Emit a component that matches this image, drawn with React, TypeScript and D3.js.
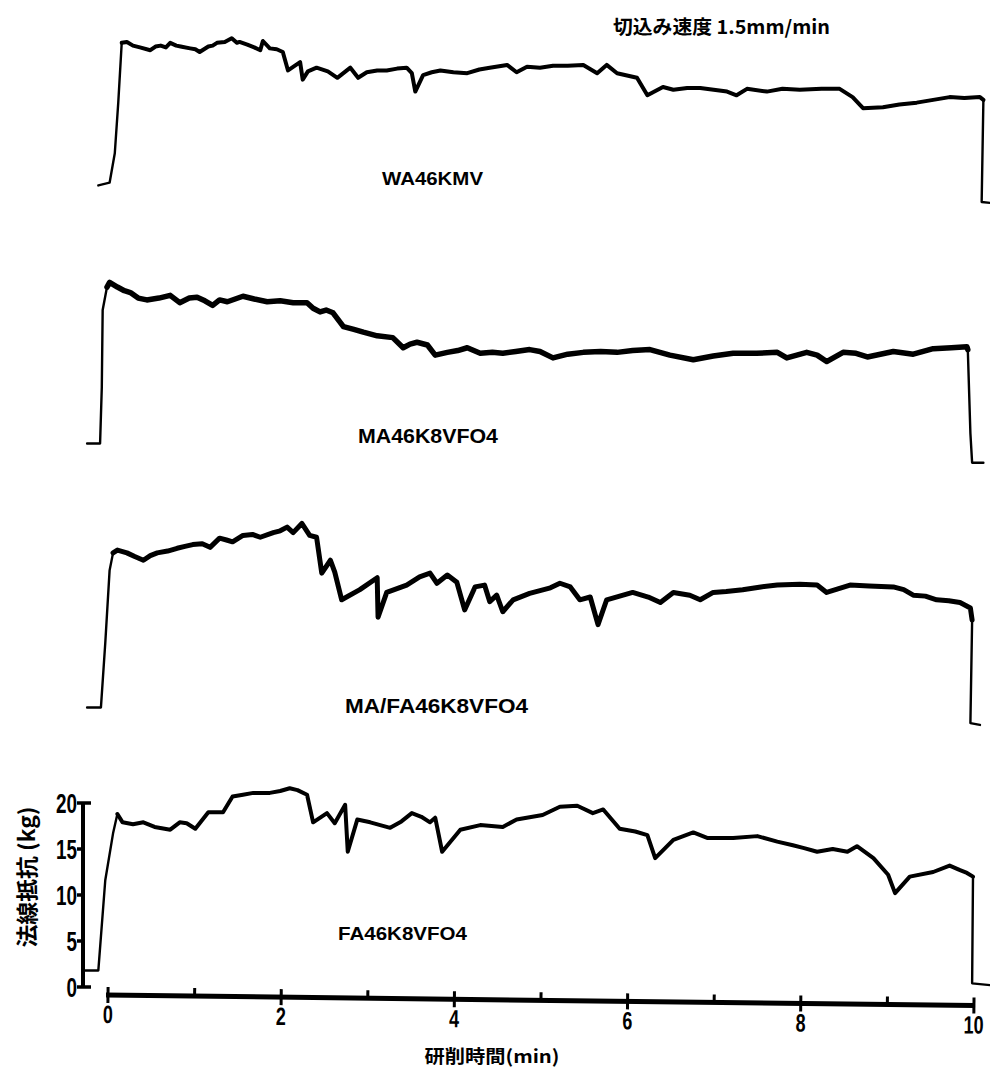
import React from 'react';
import * as d3 from 'd3';

type Pt = [number, number];

// ---- data (time in min, normal force in kg) ----
const title = '切込み速度 1.5mm/min';
const yTitle = '法線抵抗 (kg)';
const xTitle = '研削時間(min)';
const seriesNames = ['WA46KMV', 'MA46K8VFO4', 'MA/FA46K8VFO4', 'FA46K8VFO4'];
const xTickValues = [0, 1, 2, 3, 4, 5, 6, 7, 8, 9, 10];
const xTickLabels = ['0', '2', '4', '6', '8', '10'];
const yTickValues = [0, 5, 10, 15, 20];
const yTickLabels = ['0', '5', '10', '15', '20'];

const wa46kmv: Pt[] = [
  [-0.10, 1.8], [0.03, 2.1], [0.09, 5.3], [0.13, 10.8], [0.17, 17.3], [0.23, 17.4], [0.30, 17.0], [0.38, 16.8], [0.50, 16.5],
  [0.56, 16.9], [0.62, 17.0], [0.68, 16.8], [0.73, 17.3], [0.80, 17.0], [0.85, 16.9], [0.96, 16.7], [1.02, 16.6], [1.07, 16.3],
  [1.17, 16.9], [1.22, 17.0], [1.27, 17.3], [1.36, 17.4], [1.44, 17.8], [1.50, 17.3], [1.53, 17.4], [1.62, 17.1], [1.70, 16.8],
  [1.77, 16.5], [1.80, 17.5], [1.88, 16.7], [1.96, 16.6], [2.03, 16.3], [2.09, 14.3], [2.23, 15.2], [2.26, 13.3], [2.32, 14.2],
  [2.42, 14.6], [2.55, 14.2], [2.66, 13.5], [2.81, 14.6], [2.90, 13.5], [3.00, 14.1], [3.12, 14.3], [3.23, 14.3], [3.35, 14.5],
  [3.46, 14.6], [3.52, 14.0], [3.56, 12.0], [3.65, 13.8], [3.75, 14.1], [3.85, 14.3], [4.00, 14.1], [4.16, 14.0], [4.30, 14.4],
  [4.42, 14.6], [4.62, 14.9], [4.73, 14.1], [4.85, 14.7], [5.00, 14.6], [5.15, 14.8], [5.32, 14.8], [5.50, 14.9], [5.66, 14.0],
  [5.77, 14.9], [5.89, 14.0], [6.12, 13.5], [6.24, 11.6], [6.42, 12.5], [6.54, 12.2], [6.70, 12.4], [6.85, 12.4], [7.16, 12.0],
  [7.27, 11.6], [7.39, 12.3], [7.62, 12.0], [7.80, 12.3], [8.00, 12.2], [8.25, 12.3], [8.46, 12.3], [8.61, 11.4], [8.73, 10.2],
  [8.96, 10.3], [9.15, 10.6], [9.35, 10.8], [9.54, 11.1], [9.73, 11.4], [9.90, 11.3], [10.08, 11.4], [10.12, 11.1], [10.10, 0.0],
  [10.20, -0.1],
];

const ma46k8vfo4: Pt[] = [
  [-0.23, 1.8], [-0.08, 1.8], [-0.06, 7.9], [-0.05, 16.3], [0.00, 18.8], [0.03, 19.3], [0.12, 18.8], [0.20, 18.4], [0.27, 18.2],
  [0.36, 17.6], [0.46, 17.4], [0.60, 17.6], [0.73, 17.9], [0.84, 17.1], [0.95, 17.6], [1.04, 17.7], [1.13, 17.3], [1.22, 16.8],
  [1.30, 17.4], [1.39, 17.2], [1.48, 17.5], [1.57, 17.8], [1.70, 17.5], [1.85, 17.2], [2.00, 17.3], [2.15, 17.1], [2.31, 17.1],
  [2.38, 16.5], [2.46, 16.1], [2.53, 16.3], [2.61, 16.0], [2.73, 14.5], [2.85, 14.2], [2.96, 13.9], [3.12, 13.5], [3.30, 13.3],
  [3.42, 12.2], [3.50, 12.6], [3.58, 12.8], [3.70, 12.5], [3.79, 11.4], [3.93, 11.7], [4.05, 11.9], [4.16, 12.2], [4.31, 11.6],
  [4.45, 11.7], [4.57, 11.6], [4.72, 11.8], [4.88, 12.0], [5.00, 11.8], [5.15, 11.1], [5.32, 11.5], [5.50, 11.7], [5.70, 11.8],
  [5.89, 11.7], [6.07, 11.9], [6.27, 12.0], [6.50, 11.4], [6.77, 10.9], [7.00, 11.3], [7.23, 11.6], [7.50, 11.6], [7.74, 11.7],
  [7.85, 11.1], [8.08, 11.7], [8.20, 11.4], [8.31, 10.7], [8.50, 11.7], [8.65, 11.6], [8.78, 11.2], [9.08, 11.8], [9.31, 11.5],
  [9.54, 12.1], [9.75, 12.2], [9.93, 12.3], [9.94, 12.0], [9.97, 2.9], [9.99, -0.3], [10.12, -0.3],
];

const mafa46k8vfo4: Pt[] = [
  [-0.23, 1.8], [-0.07, 1.8], [-0.02, 8.8], [0.03, 16.7], [0.07, 18.6], [0.12, 18.9], [0.23, 18.6], [0.32, 18.2], [0.42, 17.8],
  [0.50, 18.3], [0.58, 18.6], [0.70, 18.8], [0.81, 19.1], [0.90, 19.3], [0.99, 19.5], [1.10, 19.6], [1.19, 19.2], [1.30, 20.2],
  [1.38, 20.0], [1.45, 19.8], [1.57, 20.5], [1.68, 20.6], [1.77, 20.3], [1.92, 20.8], [2.00, 21.0], [2.08, 21.4], [2.15, 20.8],
  [2.25, 21.8], [2.34, 20.5], [2.42, 20.3], [2.48, 16.4], [2.58, 17.8], [2.63, 16.5], [2.71, 13.5], [2.92, 14.6], [3.12, 15.9],
  [3.13, 11.6], [3.23, 14.3], [3.46, 15.1], [3.61, 16.0], [3.73, 16.4], [3.81, 15.3], [3.93, 16.2], [4.04, 15.4], [4.13, 12.4],
  [4.25, 14.9], [4.36, 15.1], [4.42, 13.3], [4.50, 14.0], [4.57, 12.2], [4.69, 13.5], [4.88, 14.2], [5.00, 14.5], [5.12, 14.8],
  [5.23, 15.3], [5.35, 14.9], [5.46, 13.5], [5.58, 13.8], [5.67, 10.8], [5.77, 13.5], [5.92, 13.9], [6.07, 14.3], [6.25, 13.8],
  [6.39, 13.2], [6.54, 14.3], [6.73, 14.0], [6.85, 13.5], [7.00, 14.3], [7.15, 14.4], [7.34, 14.6], [7.55, 14.9], [7.74, 15.1],
  [8.00, 15.2], [8.20, 15.1], [8.31, 14.3], [8.58, 15.1], [8.80, 15.0], [9.08, 14.9], [9.20, 14.6], [9.31, 14.0], [9.45, 13.9],
  [9.58, 13.5], [9.72, 13.4], [9.85, 13.2], [9.97, 12.6], [9.99, 11.3], [9.97, 0.1], [10.08, -0.1],
];

const fa46k8vfo4: Pt[] = [
  [-0.28, 1.8], [-0.10, 1.8], [-0.02, 11.6], [0.07, 16.7], [0.12, 18.8], [0.18, 17.9], [0.30, 17.7], [0.42, 17.9], [0.55, 17.4],
  [0.73, 17.1], [0.84, 17.9], [0.92, 17.8], [1.02, 17.2], [1.17, 19.0], [1.34, 19.0], [1.45, 20.7], [1.57, 20.9], [1.69, 21.1],
  [1.88, 21.1], [2.00, 21.3], [2.11, 21.6], [2.20, 21.4], [2.31, 20.9], [2.38, 17.9], [2.54, 18.9], [2.63, 17.8], [2.75, 19.8],
  [2.78, 14.7], [2.89, 18.2], [3.04, 17.9], [3.27, 17.3], [3.40, 18.0], [3.52, 18.9], [3.63, 18.5], [3.73, 17.9], [3.79, 18.4],
  [3.87, 14.7], [4.08, 17.1], [4.31, 17.6], [4.57, 17.4], [4.73, 18.2], [5.03, 18.7], [5.23, 19.6], [5.43, 19.7], [5.61, 18.9],
  [5.73, 19.3], [5.92, 17.2], [6.10, 16.9], [6.24, 16.5], [6.33, 14.0], [6.54, 16.0], [6.77, 16.8], [6.93, 16.2], [7.23, 16.2],
  [7.51, 16.4], [7.74, 15.8], [7.92, 15.4], [8.05, 15.1], [8.20, 14.7], [8.38, 15.0], [8.55, 14.7], [8.66, 15.3], [8.85, 14.0],
  [9.02, 12.2], [9.10, 10.2], [9.27, 12.0], [9.54, 12.5], [9.73, 13.2], [9.85, 12.7], [9.93, 12.4], [10.00, 12.0], [9.99, 0.4],
  [10.20, 0.2],
];

const seriesData: Pt[][] = [wa46kmv, ma46k8vfo4, mafa46k8vfo4, fa46k8vfo4];

// ---- layout ----
const W = 990;
const H = 1068;
const x = d3.scaleLinear().domain([0, 10]).range([107, 973]);
const panelZero = [202, 460, 724, 987];
const plateau: [number, number][] = [[4, -2], [4, -3], [4, -2], [4, -2]];
const thick = [4, 5.5, 5, 4];
const labelPos = [
  { x: 382, y: 185, len: 101, fs: 18 },
  { x: 358, y: 443, len: 140, fs: 20 },
  { x: 345, y: 713, len: 183, fs: 20 },
  { x: 338, y: 940, len: 129, fs: 19 },
];

const sans = "'Liberation Sans', Arial, sans-serif";
const cjk = "'Noto Sans CJK JP', 'Noto Sans CJK SC', sans-serif";

export default function App() {
  const yScales = panelZero.map((z) => d3.scaleLinear().domain([0, 20]).range([z, z - 184]));
  const yAxis = yScales[3];
  const axisY = 995;

  return (
    <svg width={W} height={H} style={{ position: 'absolute', left: 0, top: 0, background: '#fff' }}>
      <rect x={0} y={0} width={W} height={H} fill="#fff" />
      <text x={613} y={34} fontFamily={cjk} fontWeight={700} fontSize={19} textLength={217} lengthAdjust="spacingAndGlyphs" fill="#000">
        {title}
      </text>

      {seriesData.map((data, i) => {
        const line = d3.line<Pt>().x((d) => x(d[0])).y((d) => yScales[i](d[1])).curve(d3.curveLinear);
        const [a, b] = plateau[i];
        return (
          <g key={i}>
            <path d={line(data) || ''} fill="none" stroke="#000" strokeWidth={2.4} strokeLinejoin="round" strokeLinecap="round" />
            <path d={line(data.slice(a, data.length + b)) || ''} fill="none" stroke="#000" strokeWidth={thick[i]} strokeLinejoin="round" strokeLinecap="round" />
            <text x={labelPos[i].x} y={labelPos[i].y} fontFamily={sans} fontWeight={700} fontSize={labelPos[i].fs}
              textLength={labelPos[i].len} lengthAdjust="spacingAndGlyphs" fill="#000">
              {seriesNames[i]}
            </text>
          </g>
        );
      })}

      {/* y axis */}
      <g>
        <line x1={83} x2={83} y1={yAxis(20) - 1} y2={yAxis(0) + 1} stroke="#000" strokeWidth={4} />
        {yTickValues.map((v, i) => {
          const cap = v === 0 || v === 20;
          return (
            <g key={v}>
              <line x1={77} x2={cap ? 91 : 85} y1={yAxis(v)} y2={yAxis(v)} stroke="#000" strokeWidth={3.5} />
              <text transform={`translate(77, ${yAxis(v) + 10}) scale(0.7, 1)`} textAnchor="end" fontFamily={sans} fontWeight={700}
                fontSize={27} fill="#000">
                {yTickLabels[i]}
              </text>
            </g>
          );
        })}
        <text transform={`translate(35, 877) rotate(-90)`} textAnchor="middle" fontFamily={cjk} fontWeight={700} fontSize={22}
          textLength={141} lengthAdjust="spacingAndGlyphs" fill="#000">
          {yTitle}
        </text>
      </g>

      {/* x axis (slightly tilted as in the scan) */}
      <g transform={`rotate(0.7, ${x(0)}, ${axisY})`}>
        <line x1={x(0) - 1} x2={x(10) + 1} y1={axisY} y2={axisY} stroke="#000" strokeWidth={5} />
        {xTickValues.map((v) => {
          const major = v % 2 === 0;
          return (
            <line key={v} x1={x(v) + 1} x2={x(v) + 1} y1={axisY - 8} y2={major ? axisY + 8 : axisY} stroke="#000" strokeWidth={3} />
          );
        })}
        {xTickLabels.map((l) => (
          <text key={l} transform={`translate(${x(+l) + 1}, ${axisY + 28}) scale(0.72, 1)`} textAnchor="middle" fontFamily={sans}
            fontWeight={700} fontSize={25} fill="#000">
            {l}
          </text>
        ))}
      </g>
      <text x={492} y={1063} textAnchor="middle" fontFamily={cjk} fontWeight={700} fontSize={18}
        textLength={135} lengthAdjust="spacingAndGlyphs" fill="#000">
        {xTitle}
      </text>
    </svg>
  );
}
